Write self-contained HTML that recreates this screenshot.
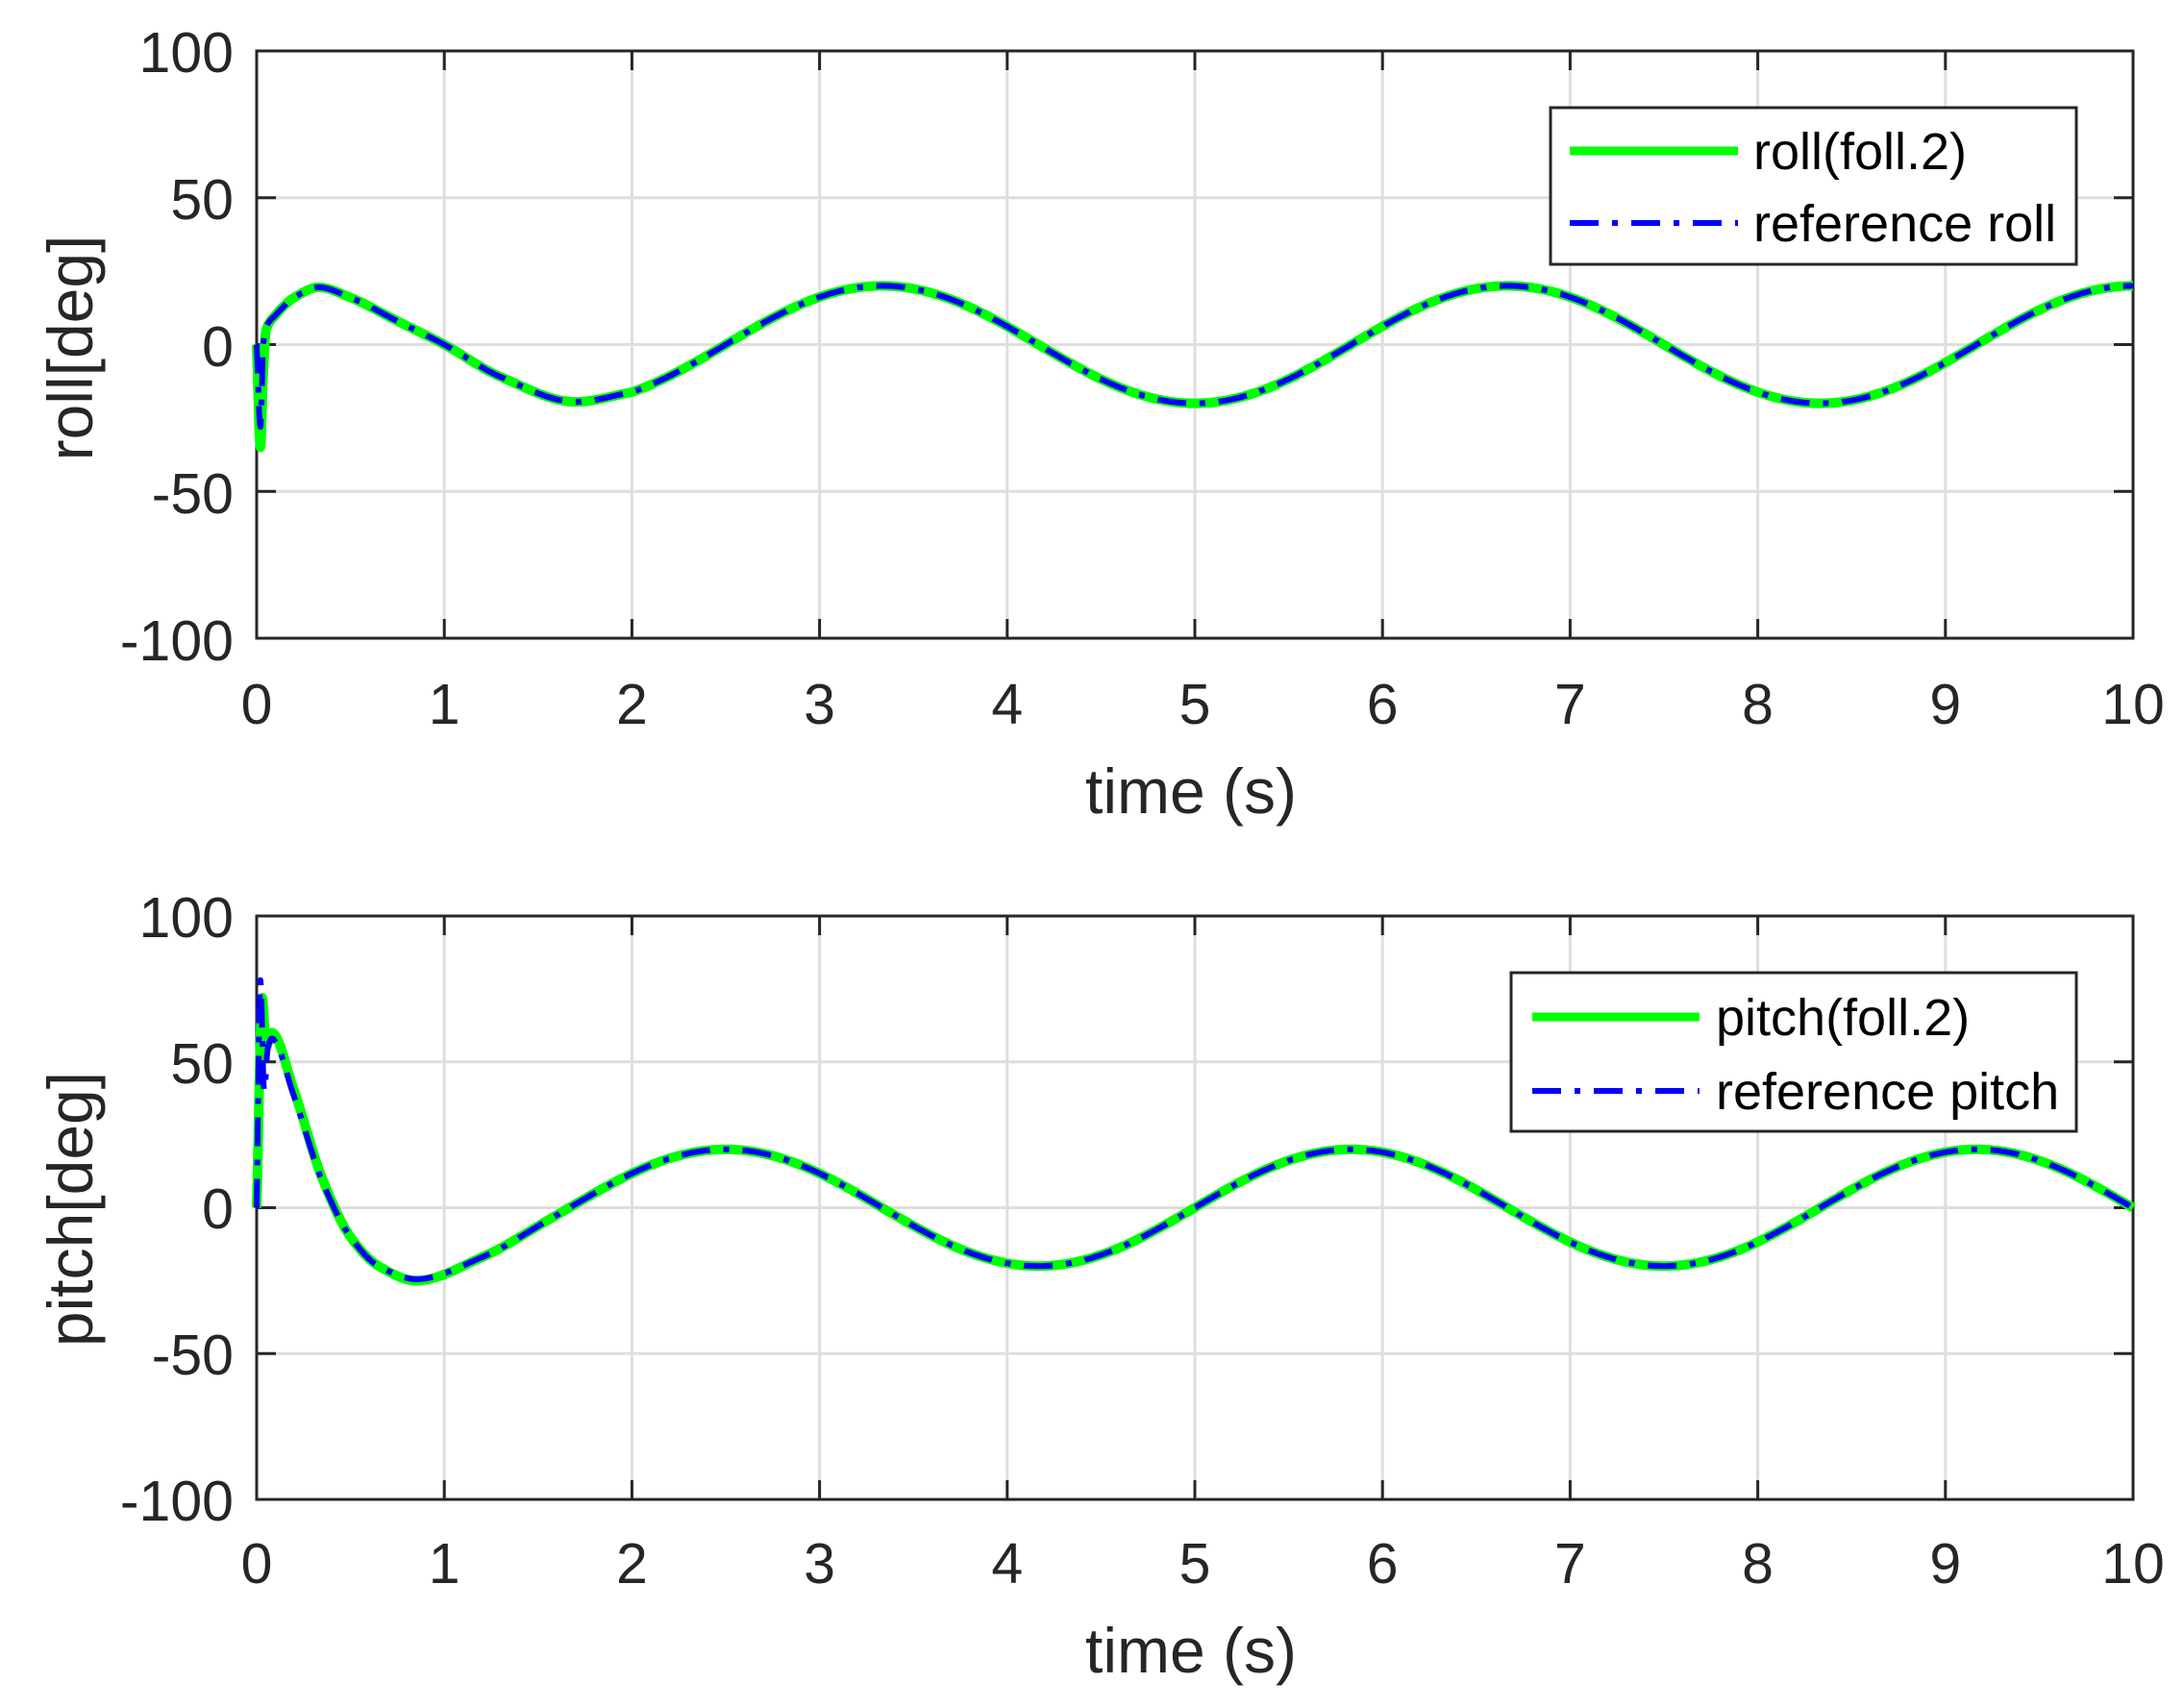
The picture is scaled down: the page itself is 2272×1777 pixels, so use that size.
<!DOCTYPE html>
<html><head><style>body{margin:0;background:#fff}svg{display:block}text{font-family:"Liberation Sans",sans-serif;fill:#262626}</style></head>
<body>
<svg id="s" width="2272" height="1777" xmlns="http://www.w3.org/2000/svg">
<g id="g"></g>
<g font-size="59" text-anchor="end">
<text x="243" y="75">100</text><text x="243" y="228">50</text><text x="243" y="381">0</text><text x="243" y="534">-50</text><text x="243" y="687">-100</text>
<text x="243" y="975">100</text><text x="243" y="1127">50</text><text x="243" y="1278">0</text><text x="243" y="1430">-50</text><text x="243" y="1582">-100</text>
</g>
<g font-size="59" text-anchor="middle" id="xt"></g>
<g font-size="66" text-anchor="middle">
<text x="1239" y="846">time (s)</text>
<text x="1239" y="1740">time (s)</text>
<text transform="translate(96,362) rotate(-90)">roll[deg]</text>
<text transform="translate(96,1258) rotate(-90)">pitch[deg]</text>
</g>
<rect x="1613" y="112" width="547" height="163" fill="#fff" stroke="#262626" stroke-width="3"/>
<line x1="1633" y1="157" x2="1808" y2="157" stroke="#00ff00" stroke-width="9"/>
<line x1="1633" y1="232" x2="1808" y2="232" stroke="#0000ff" stroke-width="6" stroke-dasharray="30 14 6 14"/>
<g font-size="54"><text x="1824" y="176" style="fill:#000">roll(foll.2)</text><text x="1824" y="251" style="fill:#000">reference roll</text></g>
<rect x="1572" y="1012" width="588" height="165" fill="#fff" stroke="#262626" stroke-width="3"/>
<line x1="1594" y1="1058" x2="1768" y2="1058" stroke="#00ff00" stroke-width="9"/>
<line x1="1594" y1="1135" x2="1768" y2="1135" stroke="#0000ff" stroke-width="6" stroke-dasharray="30 14 6 14"/>
<g font-size="54"><text x="1785" y="1077" style="fill:#000">pitch(foll.2)</text><text x="1785" y="1154" style="fill:#000">reference pitch</text></g>
</svg>
<script>
const NS="http://www.w3.org/2000/svg",g=document.getElementById('g'),xt=document.getElementById('xt');
const X0=267,X1=2219,W=(X1-X0)/10;
const axes=[{t:53,b:664},{t:953,b:1560}];
function el(n,a,p){const e=document.createElementNS(NS,n);for(const k in a)e.setAttribute(k,a[k]);(p||g).appendChild(e);return e;}
const w=2*Math.PI/3.333;
function slopes(p){const n=p.length,d=[],m=[];for(let i=0;i<n-1;i++)d.push((p[i+1][1]-p[i][1])/(p[i+1][0]-p[i][0]));
 m[0]=d[0];m[n-1]=d[n-2];for(let i=1;i<n-1;i++){m[i]=(d[i-1]*d[i]<=0)?0:2/(1/d[i-1]+1/d[i]);}return m;}
function interp(p,m,t){for(let i=0;i<p.length-1;i++){const[a,ya]=p[i],[b,yb]=p[i+1];if(t>=a&&t<=b){const h=b-a,u=(t-a)/h,u2=u*u,u3=u2*u;
 return (2*u3-3*u2+1)*ya+(u3-2*u2+u)*h*m[i]+(-2*u3+3*u2)*yb+(u3-u2)*h*m[i+1];}}return p[p.length-1][1];}
function mk(p,f,T){const m=slopes(p);return t=>t<T?interp(p,m,t):f(t);}
const rollE=[[0,0],[0.02,-35],[0.035,-10],[0.05,5],[0.1,10],[0.2,16],[0.33,19.5],[0.5,16],[0.75,8],[1,0],[1.3,-11],[1.7,-19.5],[2.0,-16.2]];
const rollR=[[0,0],[0.02,-28],[0.035,0],[0.05,6],[0.1,10],[0.2,16],[0.33,19.5],[0.5,16],[0.75,8],[1,0],[1.3,-11],[1.7,-19.5],[2.0,-16.2]];
const pE=[[0,0],[0.03,72],[0.05,55],[0.08,60],[0.2,40],[0.35,10],[0.5,-10],[0.65,-20],[0.85,-25],[1.2,-17],[1.6,-2.5]];
const pR=[[0,0],[0.02,78],[0.04,40],[0.06,55],[0.08,58],[0.2,38],[0.35,9],[0.5,-10],[0.65,-20],[0.85,-24.5],[1.2,-17],[1.6,-2.5]];
const rf=t=>20*Math.cos(w*t), pf=t=>-20*Math.sin(w*t);
axes.forEach((a,i)=>{
  const Y=v=>(a.t+a.b)/2-v*(a.b-a.t)/200;
  for(let k=0;k<=10;k++){const x=X0+k*W;el('line',{x1:x,y1:a.t,x2:x,y2:a.b,stroke:'#dedede','stroke-width':3});
    el('line',{x1:x,y1:a.t,x2:x,y2:a.t+20,stroke:'#262626','stroke-width':3});el('line',{x1:x,y1:a.b,x2:x,y2:a.b-20,stroke:'#262626','stroke-width':3});
    const tx=el('text',{x:x,y:i?1647:753},xt);tx.textContent=k;}
  for(let v=-50;v<=50;v+=50){const y=Y(v);el('line',{x1:X0,y1:y,x2:X1,y2:y,stroke:'#dedede','stroke-width':3});
    el('line',{x1:X0,y1:y,x2:X0+20,y2:y,stroke:'#262626','stroke-width':3});el('line',{x1:X1,y1:y,x2:X1-20,y2:y,stroke:'#262626','stroke-width':3});}
  el('rect',{x:X0,y:a.t,width:X1-X0,height:a.b-a.t,fill:'none',stroke:'#262626','stroke-width':3});
  const fs=i?[mk(pE,pf,1.6),mk(pR,pf,1.6)]:[mk(rollE,rf,2),mk(rollR,rf,2)];
  fs.forEach((f,j)=>{let d='';for(let n=0;n<=4000;n++){const t=n/400;d+=(n?'L':'M')+(X0+t*W).toFixed(1)+' '+Y(f(t)).toFixed(1);}
    el('path',{d:d,fill:'none',stroke:j?'#0000ff':'#00ff00','stroke-width':j?6:10,'stroke-dasharray':j?'30 14 6 14':'none','stroke-linejoin':'round'});});
});
</script>
</body></html>
